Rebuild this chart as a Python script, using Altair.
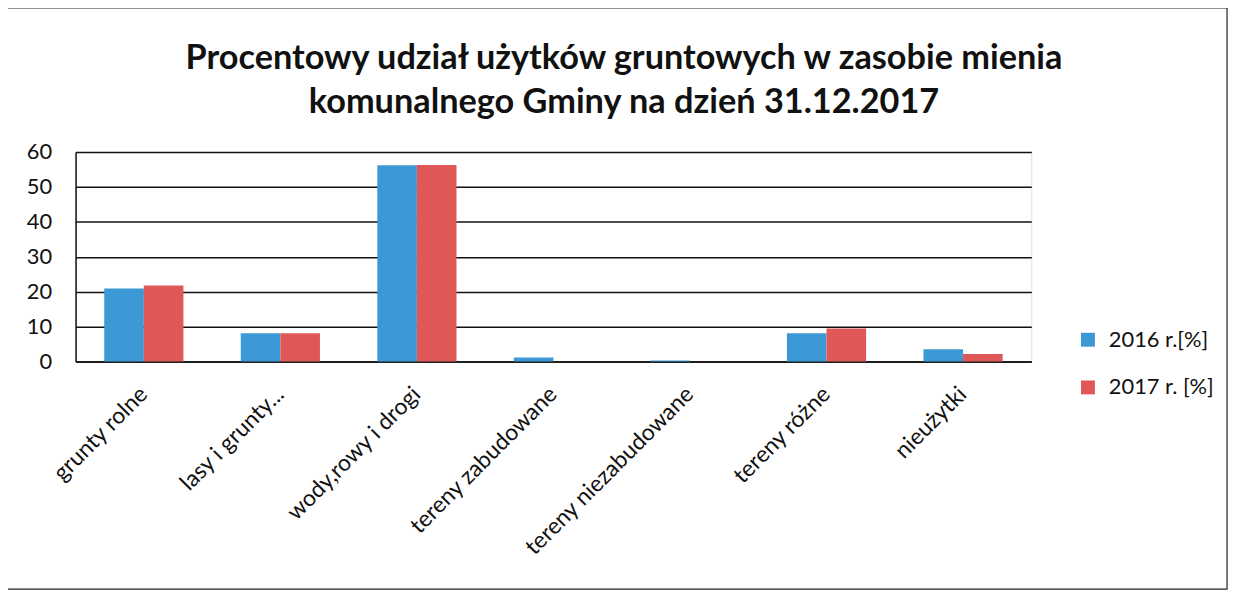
import altair as alt
import pandas as pd

categories = ["grunty rolne", "lasy i grunty...", "wody,rowy i drogi", "tereny zabudowane",
              "tereny niezabudowane", "tereny różne", "nieużytki"]
series = ["2016 r.[%]", "2017 r. [%]"]
values_2016 = [20.9, 8.1, 56.2, 1.2, 0.3, 8.1, 3.5]
values_2017 = [21.8, 8.1, 56.3, 0.0, 0.0, 9.5, 2.2]
y_ticks = [0, 10, 20, 30, 40, 50, 60]
title_lines = ["Procentowy udział użytków gruntowych w zasobie mienia",
               "komunalnego Gminy na dzień 31.12.2017"]

rows = []
for c, a, b in zip(categories, values_2016, values_2017):
    rows.append({"kategoria": c, "seria": series[0], "wartosc": a})
    rows.append({"kategoria": c, "seria": series[1], "wartosc": b})
df = pd.DataFrame(rows)

FONT = "Lato"
W, H = 962, 211

bars = alt.Chart(df).mark_bar(stroke=None).encode(
    x=alt.X("kategoria:N", sort=categories,
            scale=alt.Scale(paddingInner=0.42, paddingOuter=0.21),
            axis=alt.Axis(title=None, labelAngle=-45, labelAlign="right", labelBaseline="middle",
                          labelFontSize=23, labelColor="#111", labelFont=FONT, ticks=False,
                          domain=True, domainColor="#111", domainWidth=1.5, labelPadding=29,
                          labelLimit=300)),
    xOffset=alt.XOffset("seria:N", sort=series),
    y=alt.Y("wartosc:Q", scale=alt.Scale(domain=[0, 60], nice=False),
            axis=alt.Axis(title=None, values=y_ticks, labelFontSize=22, labelColor="#111",
                          labelFont=FONT, ticks=False, domain=True, domainColor="#111",
                          domainWidth=1.5, grid=True, gridColor="#111", gridWidth=1.5,
                          labelPadding=24)),
    color=alt.Color("seria:N", sort=series,
                    scale=alt.Scale(domain=series, range=["#3d99d6", "#e05757"]),
                    legend=alt.Legend(title=None, orient="none", legendX=1008, legendY=178,
                                      symbolType="square", symbolSize=196, labelFontSize=22,
                                      labelFont=FONT, labelColor="#111", rowPadding=26,
                                      labelOffset=10, symbolStrokeWidth=0)),
)

frame = alt.Chart(pd.DataFrame({"f": [0]})).mark_rect(
    fill=None, stroke="#222", strokeWidth=1.2
).encode(
    x=alt.value(-70), x2=alt.value(1159),
    y=alt.value(-145), y2=alt.value(440),
)

chart = alt.layer(frame, bars).properties(
    width=W, height=H,
    title=alt.TitleParams(text=title_lines, fontSize=34.5, font=FONT, fontWeight="bold",
                          color="#111", anchor="middle", frame="group", dx=71, offset=28,
                          dy=142, lineHeight=44),
    autosize=alt.AutoSizeParams(type="none"),
    padding={"left": 68, "top": 143, "right": 203, "bottom": 229},
).configure_view(stroke=None).configure(background="white")

chart.save("out.html", embed_options={"renderer": "svg", "actions": False})
